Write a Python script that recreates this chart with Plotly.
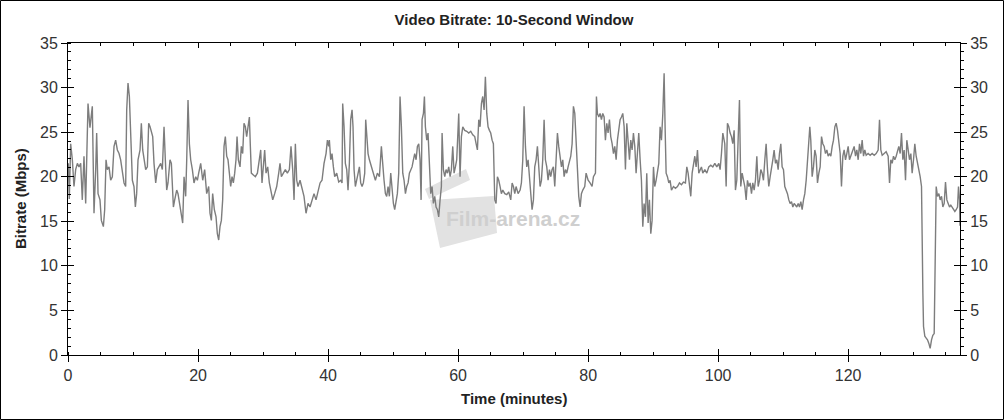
import plotly.graph_objects as go

# (minute, Mbps) readings, one list per ~20 minute stretch
seg_00_20 = [
    (0.05, 21.5), (0.2, 17.5), (0.41, 23.7), (0.67, 21.9), (0.92, 18.9), (1.18, 20.8), (1.44, 21.5),
    (1.69, 21.1), (1.95, 21.5), (2.2, 17.4), (2.46, 22.3), (2.72, 17.0), (3.08, 28.2), (3.38, 25.5),
    (3.74, 27.9), (4.0, 15.9), (4.26, 20.8), (4.41, 24.9), (4.62, 18.1), (4.92, 17.4), (5.13, 15.1),
    (5.44, 14.4), (5.64, 16.3), (5.85, 21.9), (6.05, 20.8), (6.31, 21.1), (6.56, 19.6), (6.82, 20.0),
    (7.08, 23.4), (7.33, 24.1), (7.59, 23.0), (7.85, 22.6), (8.1, 21.9), (8.36, 20.8), (8.62, 19.3),
    (8.87, 18.9), (9.03, 27.5), (9.23, 30.5), (9.44, 29.0), (9.64, 24.9), (9.9, 19.6), (10.15, 18.9),
    (10.36, 16.6), (10.56, 18.1), (10.77, 21.9), (11.08, 23.0), (11.28, 26.0), (11.49, 23.0),
    (11.69, 21.9), (11.95, 20.8), (12.21, 21.1), (12.41, 26.0), (12.62, 25.6), (12.82, 24.9),
    (13.03, 24.5), (13.23, 21.5), (13.49, 19.3), (13.74, 20.8), (14.0, 21.1), (14.26, 21.5),
    (14.51, 20.8), (14.77, 25.6), (14.97, 21.9), (15.18, 18.5), (15.38, 19.3), (15.69, 21.9),
    (15.9, 21.5), (16.21, 16.6), (16.41, 17.4), (16.72, 18.5), (16.92, 18.1), (17.23, 16.6),
    (17.44, 15.9), (17.64, 14.8), (17.85, 20.0), (18.1, 17.8), (18.26, 21.9), (18.46, 28.6),
    (18.67, 23.7), (18.87, 21.9), (19.13, 20.8), (19.38, 19.3), (19.64, 20.0), (19.9, 19.6),
]
seg_20_40 = [
    (20.1, 20.4), (20.41, 21.5), (20.72, 19.6), (21.02, 20.8), (21.33, 18.1), (21.64, 18.9),
    (21.84, 15.9), (22.05, 15.1), (22.25, 18.1), (22.51, 16.3), (22.77, 15.5), (22.97, 13.6),
    (23.18, 12.9), (23.38, 14.4), (23.59, 15.1), (23.79, 17.4), (24.0, 23.4), (24.2, 24.5),
    (24.41, 22.3), (24.61, 21.9), (24.82, 20.4), (25.02, 18.9), (25.23, 20.0), (25.43, 19.3),
    (25.64, 20.4), (25.84, 21.9), (26.0, 24.5), (26.2, 21.9), (26.46, 21.1), (26.66, 23.4),
    (26.87, 22.6), (27.07, 26.0), (27.28, 25.6), (27.48, 24.5), (27.69, 25.6), (27.9, 26.7),
    (28.05, 23.4), (28.2, 20.4), (28.51, 20.2), (28.82, 20.0), (29.13, 20.4), (29.43, 21.9),
    (29.64, 23.0), (29.84, 19.3), (30.05, 20.8), (30.25, 23.0), (30.46, 20.4), (30.72, 21.1),
    (30.97, 19.3), (31.23, 18.5), (31.49, 17.4), (31.79, 18.1), (32.1, 18.9), (32.41, 20.4),
    (32.61, 21.5), (32.82, 20.0), (33.13, 20.4), (33.43, 20.8), (33.74, 20.4), (34.05, 20.8),
    (34.3, 23.4), (34.56, 20.8), (34.77, 17.4), (34.97, 23.7), (35.18, 19.6), (35.38, 18.9),
    (35.69, 19.6), (36.0, 18.5), (36.3, 17.8), (36.61, 15.9), (36.92, 17.0), (37.23, 16.6),
    (37.54, 17.4), (37.84, 18.1), (38.15, 17.4), (38.46, 18.5), (38.77, 19.3), (39.07, 19.6),
    (39.38, 21.5), (39.69, 22.6), (39.9, 24.1), (40.1, 23.4),
]
seg_40_60 = [
    (40.2, 24.1), (40.41, 21.9), (40.61, 22.6), (40.82, 21.1), (41.02, 20.0), (41.33, 20.4),
    (41.64, 19.4), (41.95, 19.6), (42.15, 19.3), (42.25, 28.2), (42.46, 25.6), (42.66, 21.5),
    (42.87, 20.8), (43.07, 18.5), (43.28, 21.5), (43.48, 26.4), (43.69, 27.5), (43.84, 25.6),
    (44.0, 20.8), (44.2, 18.9), (44.41, 19.6), (44.61, 20.4), (44.82, 21.1), (45.02, 19.3),
    (45.23, 18.9), (45.43, 19.3), (45.64, 20.4), (45.79, 26.4), (45.95, 24.1), (46.15, 22.6),
    (46.36, 21.9), (46.66, 21.1), (46.97, 20.4), (47.28, 19.6), (47.59, 20.4), (47.9, 20.0),
    (48.2, 23.4), (48.41, 21.1), (48.61, 19.6), (48.82, 18.1), (49.02, 17.8), (49.23, 18.9),
    (49.43, 17.8), (49.64, 20.4), (49.84, 18.1), (50.05, 17.0), (50.25, 16.3), (50.46, 17.4),
    (50.66, 18.1), (50.87, 20.4), (51.07, 29.0), (51.28, 25.6), (51.49, 20.4), (51.69, 19.6),
    (51.9, 18.1), (52.1, 18.9), (52.31, 19.3), (52.51, 20.4), (52.72, 20.8), (52.92, 21.1),
    (53.13, 21.9), (53.33, 22.6), (53.54, 21.9), (53.74, 23.4), (53.95, 23.7), (54.15, 21.9),
    (54.31, 17.4), (54.46, 26.4), (54.67, 27.1), (54.82, 29.0), (54.97, 25.6), (55.18, 24.1),
    (55.38, 24.9), (55.59, 20.8), (55.79, 18.1), (56.0, 18.9), (56.2, 17.0), (56.41, 17.8),
    (56.61, 16.6), (56.82, 16.3), (57.02, 15.5), (57.23, 17.4), (57.43, 18.9), (57.54, 24.9),
    (57.74, 20.8), (57.95, 20.0), (58.15, 20.8), (58.36, 20.4), (58.56, 21.1), (58.77, 20.0),
    (58.97, 20.8), (59.18, 23.4), (59.38, 20.4), (59.59, 21.1), (59.79, 21.9),
]
seg_60_80 = [
    (60.1, 27.1), (60.3, 20.0), (60.51, 24.5), (60.72, 25.6), (61.02, 25.2), (61.33, 25.1),
    (61.64, 24.9), (61.95, 25.1), (62.25, 24.7), (62.56, 24.5), (62.77, 23.7), (62.97, 23.0),
    (63.18, 26.4), (63.38, 25.6), (63.59, 28.2), (63.79, 29.0), (64.0, 27.5), (64.2, 31.2),
    (64.41, 27.1), (64.61, 25.6), (64.82, 25.2), (65.02, 24.9), (65.23, 24.1), (65.43, 23.7),
    (65.64, 17.4), (65.84, 17.0), (66.05, 20.0), (66.25, 19.6), (66.46, 18.9), (66.66, 18.1),
    (66.87, 18.5), (67.18, 18.1), (67.49, 18.0), (67.79, 18.3), (68.1, 17.4), (68.31, 19.3),
    (68.51, 18.9), (68.72, 18.1), (68.92, 18.9), (69.23, 18.1), (69.54, 18.5), (69.74, 19.3),
    (69.95, 21.9), (70.15, 27.9), (70.36, 23.4), (70.56, 21.1), (70.77, 21.9), (70.97, 19.6),
    (71.18, 18.1), (71.38, 16.3), (71.59, 17.4), (71.79, 21.1), (72.0, 21.9), (72.2, 23.4),
    (72.41, 20.8), (72.61, 18.9), (72.82, 19.6), (73.02, 21.9), (73.23, 26.4), (73.43, 21.9),
    (73.64, 21.1), (73.84, 19.6), (74.05, 20.8), (74.25, 20.0), (74.46, 20.8), (74.66, 21.1),
    (74.87, 18.9), (75.07, 21.9), (75.28, 24.9), (75.48, 23.4), (75.69, 22.3), (75.9, 21.1),
    (76.1, 21.9), (76.31, 20.0), (76.51, 20.8), (76.72, 20.4), (76.92, 21.1), (77.13, 21.9),
    (77.33, 22.3), (77.54, 23.7), (77.74, 27.9), (77.95, 27.1), (78.15, 23.7), (78.36, 20.0),
    (78.56, 17.8), (78.77, 16.6), (78.97, 18.1), (79.18, 18.5), (79.48, 18.9), (79.69, 20.4),
    (80.0, 19.6), (80.3, 19.3), (80.61, 18.9), (80.82, 20.0),
]
seg_80_100 = [
    (81.13, 20.4), (81.28, 29.0), (81.43, 27.1), (81.64, 26.7), (81.84, 27.1), (82.05, 26.4),
    (82.25, 27.1), (82.46, 26.7), (82.66, 24.1), (82.87, 26.0), (83.07, 24.9), (83.28, 26.4),
    (83.48, 24.5), (83.69, 23.7), (83.9, 22.6), (84.1, 23.4), (84.31, 21.9), (84.51, 24.1),
    (84.72, 25.2), (84.92, 26.4), (85.13, 26.7), (85.33, 27.1), (85.54, 25.6), (85.74, 20.8),
    (85.95, 26.0), (86.15, 23.4), (86.36, 21.9), (86.56, 24.1), (86.77, 23.0), (86.97, 24.9),
    (87.18, 23.4), (87.38, 20.4), (87.59, 23.0), (87.79, 24.9), (88.0, 21.9), (88.2, 19.6),
    (88.41, 14.4), (88.61, 17.0), (88.82, 15.5), (89.02, 20.4), (89.23, 14.8), (89.43, 17.4),
    (89.64, 13.6), (89.84, 15.1), (90.05, 21.1), (90.25, 18.9), (90.46, 19.6), (90.66, 20.4),
    (90.87, 21.5), (91.07, 25.6), (91.28, 24.1), (91.49, 27.1), (91.69, 31.6), (91.84, 25.6),
    (92.0, 20.4), (92.2, 20.0), (92.41, 19.3), (92.61, 19.6), (92.82, 18.5), (93.13, 18.9),
    (93.43, 18.7), (93.74, 18.9), (94.05, 19.3), (94.36, 19.1), (94.66, 19.4), (94.97, 19.3),
    (95.18, 21.1), (95.38, 20.4), (95.59, 19.3), (95.79, 17.8), (96.0, 20.4), (96.2, 21.5),
    (96.41, 22.3), (96.61, 21.1), (96.82, 23.0), (97.02, 20.4), (97.23, 20.8), (97.43, 21.1),
    (97.64, 20.4), (97.95, 20.8), (98.26, 20.4), (98.56, 21.1), (98.87, 21.3), (99.18, 21.1),
    (99.49, 21.5), (99.79, 21.1), (100.1, 21.5), (100.3, 20.8), (100.51, 22.6), (100.72, 24.9),
]
seg_100_120 = [
    (101.02, 23.7), (101.23, 18.9), (101.43, 26.0), (101.64, 25.6), (101.84, 24.9), (102.05, 24.5),
    (102.25, 23.7), (102.46, 25.2), (102.66, 18.5), (102.87, 19.6), (103.07, 24.1), (103.28, 28.6),
    (103.38, 23.7), (103.48, 18.9), (103.69, 20.4), (103.9, 19.6), (104.1, 18.9), (104.31, 17.4),
    (104.51, 19.6), (104.72, 18.9), (104.92, 19.3), (105.13, 18.1), (105.33, 19.3), (105.54, 18.5),
    (105.74, 19.6), (105.95, 22.3), (106.15, 18.9), (106.36, 19.6), (106.56, 20.8), (106.77, 20.4),
    (106.97, 19.6), (107.18, 21.9), (107.38, 23.7), (107.59, 20.8), (107.79, 18.9), (108.0, 20.0),
    (108.2, 20.8), (108.41, 21.9), (108.61, 23.0), (108.82, 21.5), (109.02, 21.9), (109.23, 20.8),
    (109.43, 22.6), (109.64, 23.7), (109.84, 21.1), (110.05, 20.8), (110.25, 18.9), (110.46, 18.5),
    (110.66, 18.1), (110.87, 17.4), (111.07, 17.0), (111.28, 17.2), (111.49, 16.6), (111.69, 17.0),
    (111.9, 16.8), (112.1, 16.6), (112.31, 17.0), (112.51, 16.6), (112.72, 17.2), (112.92, 16.3),
    (113.13, 17.4), (113.33, 18.1), (113.54, 19.6), (113.74, 21.9), (113.95, 24.1), (114.1, 25.6),
    (114.25, 24.1), (114.46, 20.0), (114.66, 21.1), (114.87, 23.0), (115.07, 22.3), (115.28, 19.3),
    (115.49, 20.4), (115.69, 21.1), (115.9, 24.5), (116.1, 23.7), (116.31, 23.4), (116.51, 22.6),
    (116.72, 23.0), (116.92, 22.3), (117.13, 22.6), (117.33, 22.3), (117.54, 23.4), (117.74, 24.1),
    (117.95, 25.6), (118.15, 26.0), (118.36, 25.2), (118.56, 24.1), (118.77, 22.6), (118.97, 18.9),
    (119.18, 22.3), (119.38, 23.0), (119.59, 21.9), (119.79, 22.6), (120.0, 23.4), (120.2, 21.9),
    (120.41, 22.3), (120.61, 22.6), (120.82, 23.0),
]
seg_120_end = [
    (120.92, 23.4), (121.13, 22.3), (121.33, 23.0), (121.54, 21.9), (121.74, 23.7), (121.95, 22.6),
    (122.15, 24.1), (122.36, 22.3), (122.56, 23.0), (122.77, 22.4), (123.07, 22.6), (123.38, 22.4),
    (123.69, 22.6), (124.0, 22.4), (124.3, 22.6), (124.61, 23.0), (124.82, 26.4), (125.02, 23.0),
    (125.23, 22.4), (125.54, 22.6), (125.84, 22.8), (126.15, 22.3), (126.36, 19.3), (126.56, 21.9),
    (126.77, 21.5), (126.97, 22.3), (127.18, 21.9), (127.38, 22.3), (127.59, 23.0), (127.79, 23.4),
    (128.0, 22.6), (128.2, 24.9), (128.41, 21.9), (128.61, 23.0), (128.82, 19.6), (129.02, 24.1),
    (129.23, 23.0), (129.43, 21.9), (129.64, 22.6), (129.84, 20.4), (130.05, 21.9), (130.25, 23.7),
    (130.46, 22.3), (130.66, 21.5), (130.87, 21.1), (131.07, 20.0), (131.28, 18.9), (131.38, 10.7),
    (131.49, 6.9), (131.59, 3.2), (131.79, 2.1), (132.0, 1.9), (132.2, 1.7), (132.41, 1.3),
    (132.61, 0.75), (132.82, 1.7), (133.02, 2.2), (133.23, 2.4), (133.33, 6.9), (133.43, 14.4),
    (133.54, 18.9), (133.74, 17.8), (133.95, 18.1), (134.15, 17.4), (134.36, 17.8), (134.56, 16.6),
    (134.77, 17.0), (134.97, 19.4), (135.18, 17.4), (135.38, 17.0), (135.59, 16.6), (135.79, 16.8),
    (136.0, 16.5), (136.2, 16.3), (136.41, 16.1), (136.61, 16.3), (136.82, 16.6), (136.97, 18.9),
    (137.13, 17.4), (137.2, 14.5),
]

segments = [seg_00_20, seg_20_40, seg_40_60, seg_60_80, seg_80_100, seg_100_120, seg_120_end]
minutes = [t for seg in segments for t, _ in seg]
mbps = [v for seg in segments for _, v in seg]

X_MAX = 137.2
Y_MAX = 35

# plot area in pixels: x 68..960, y 43..355
L, R, T, B = 68, 960, 43, 355


def px(x, y):
    # pixel position -> paper coordinates (for decorations only)
    return (x - L) / (R - L), (B - y) / (B - T)


tick_font = dict(family="Liberation Sans, Arial, sans-serif", size=16, color="#333333")
bold_font = dict(family="Liberation Sans, Arial, sans-serif", size=15, color="#222222")

fig = go.Figure()
fig.add_trace(go.Scatter(
    x=minutes, y=mbps, mode="lines",
    line=dict(color="#7d7d7d", width=1.4),
    showlegend=False, hoverinfo="x+y",
))
# invisible helpers so the mirrored/tick-only axes get drawn
for xa, ya in [("x2", "y2"), ("x3", "y3"), ("x2", "y4")]:
    fig.add_trace(go.Scatter(x=[0], y=[0], xaxis=xa, yaxis=ya, mode="markers",
                             marker=dict(opacity=0), showlegend=False, hoverinfo="skip"))

base_axis = dict(showgrid=False, zeroline=False, showline=True, linecolor="black", linewidth=1,
                 tickcolor="black", tickwidth=1, tickfont=tick_font, fixedrange=True)

fig.update_layout(
    width=1004, height=420,
    margin=dict(l=L, r=1004 - R, t=T, b=420 - B),
    paper_bgcolor="white", plot_bgcolor="white",
    title=dict(text="<b>Video Bitrate: 10-Second Window</b>", x=0.5, xref="paper",
               y=1 - 20 / 420, yanchor="middle", font=dict(bold_font, size=15)),
    xaxis=dict(base_axis, range=[0, X_MAX], tick0=0, dtick=20, ticks="outside", ticklen=6,
               minor=dict(dtick=5, ticks="inside", ticklen=3, tickcolor="black", showgrid=False)),
    xaxis2=dict(base_axis, range=[0, X_MAX], overlaying="x", side="top", anchor="y2",
                tick0=0, dtick=20, ticks="inside", ticklen=5, showticklabels=False,
                minor=dict(dtick=5, ticks="inside", ticklen=3, tickcolor="black", showgrid=False)),
    xaxis3=dict(base_axis, range=[0, X_MAX], overlaying="x", side="bottom", anchor="y3",
                tick0=0, dtick=20, ticks="inside", ticklen=6, showticklabels=False),
    yaxis=dict(base_axis, range=[0, Y_MAX], tick0=0, dtick=5, ticks="outside", ticklen=6,
               minor=dict(dtick=1, ticks="inside", ticklen=3, tickcolor="black", showgrid=False)),
    yaxis2=dict(base_axis, range=[0, Y_MAX], overlaying="y", side="right", anchor="x2",
                tick0=0, dtick=5, ticks="outside", ticklen=6,
                minor=dict(dtick=1, ticks="outside", ticklen=3, tickcolor="black", showgrid=False)),
    yaxis3=dict(base_axis, range=[0, Y_MAX], overlaying="y", side="left", anchor="x3",
                tick0=0, dtick=5, ticks="inside", ticklen=6, showticklabels=False),
    yaxis4=dict(base_axis, range=[0, Y_MAX], overlaying="y", side="right", anchor="x2",
                tick0=0, dtick=5, ticks="inside", ticklen=6, showticklabels=False),
)

# axis titles
ax, ay = px(514, 398)
fig.add_annotation(text="<b>Time (minutes)</b>", xref="paper", yref="paper", x=ax, y=ay,
                   showarrow=False, font=bold_font, xanchor="center", yanchor="middle")
ax, ay = px(20, 199)
fig.add_annotation(text="<b>Bitrate (Mbps)</b>", xref="paper", yref="paper", x=ax, y=ay,
                   textangle=-90, showarrow=False, font=bold_font, xanchor="center", yanchor="middle")

# watermark: clapperboard + text
wm = "#e2e2e2"
body = [px(430, 200), px(494, 196), px(497, 233), px(440, 248)]
stick = [px(425, 189), px(466, 169), px(470, 180), px(429, 199)]
for poly in (body, stick):
    path = "M " + " L ".join(f"{a},{b}" for a, b in poly) + " Z"
    fig.add_shape(type="path", xref="paper", yref="paper", path=path,
                  fillcolor=wm, line=dict(width=0), layer="below")
ax, ay = px(513, 218)
fig.add_annotation(text="<b>Film-arena.cz</b>", xref="paper", yref="paper", x=ax, y=ay,
                   showarrow=False,
                   font=dict(family="Liberation Sans, Arial, sans-serif", size=21, color="#cfcfcf"))

# outer frame of the image
x0, y0 = px(0.5, 419.5)
x1, y1 = px(1003.5, 0.5)
fig.add_shape(type="rect", xref="paper", yref="paper", x0=x0, x1=x1, y0=y0, y1=y1,
              line=dict(color="black", width=1))

fig.write_html("out.html", config={"displayModeBar": False},
               post_script="document.body.style.margin='0';")
